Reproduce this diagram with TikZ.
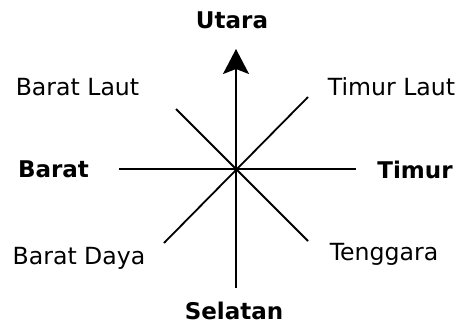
\documentclass[tikz,border=0pt]{standalone}
\usepackage{fontspec}
\setmainfont{DejaVu Sans}
\usetikzlibrary{arrows.meta}
\begin{document}
\begin{tikzpicture}[x=1pt,y=1pt,
  lbl/.style={inner sep=0pt,anchor=base,font=\fontsize{23.6}{27}\selectfont},
  blbl/.style={lbl,font=\fontsize{23}{27}\selectfont\bfseries},
  axis/.style={line width=1.8pt}]
\useasboundingbox (0,0) rectangle (461,325);
\coordinate (C) at (236,156);
\coordinate (N) at (236,276);
\coordinate (S) at (236,37);
\coordinate (W) at (119,156);
\coordinate (E) at (356,156);
\coordinate (NW) at (176,216);
\coordinate (NE) at (308,228);
\coordinate (SW) at (164,82);
\coordinate (SE) at (308,84);
\draw[axis] (W) -- (E);
\draw[axis,-{Stealth[length=25pt,width=26pt,inset=5pt]}] (S) -- (N);
\draw[axis] (NW) -- (SE);
\draw[axis] (SW) -- (NE);
\node[blbl] (utara) at (232,297) {Utara};
\node[blbl,text depth=0pt] (selatan) at (234,5.5) {Selatan};
\node[blbl] (barat) at (53.5,148) {Barat};
\node[blbl] (timur) at (415,147) {Timur};
\node[lbl] (bl) at (77.5,230) {Barat Laut};
\node[lbl] (tl) at (391.5,230) {Timur Laut};
\node[lbl] (bd) at (79,61) {Barat Daya};
\node[lbl] (tg) at (384,65) {Tenggara};
\end{tikzpicture}
\end{document}
